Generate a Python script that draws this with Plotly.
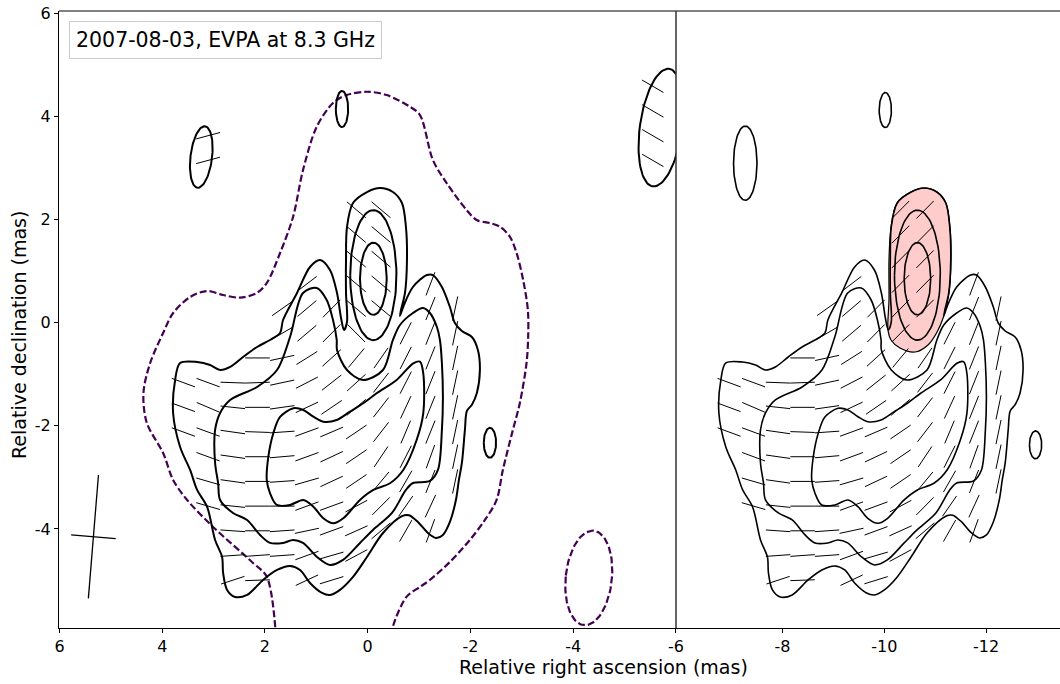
import numpy as np
import plotly.graph_objects as go

# ---------------- data (milliarcseconds) ----------------
# Stokes-I contours of the left map (RA offset, Dec offset)
L1_x = [0.928, 0.734, 0.597, 0.519, 0.461, 0.403, 0.422, 0.422, 0.403, 0.286, 0.014, -0.239, -0.492, -0.667,
        -0.745, -0.765, -0.726, -0.648, -0.628, -0.706, -0.881, -1.154, -1.270, -1.445, -1.601, -1.698, -1.834,
        -2.029, -2.146, -2.185, -2.126, -2.029, -1.932, -1.893, -1.834, -1.776, -1.718, -1.601, -1.465, -1.329,
        -1.173, -0.978, -0.803, -0.667,
        -0.298, 0.014, 0.286, 0.539, 0.734, 0.889, 1.123, 1.317, 1.512, 1.765, 2.037, 2.348, 2.582, 2.737, 2.815,
        2.835, 2.971, 3.126, 3.321, 3.457, 3.652, 3.788, 3.749, 3.652, 3.321, 3.068, 2.873, 2.679, 2.426, 2.154,
        1.901, 1.706, 1.648, 1.376, 1.123, 0.928]
L1_y = [1.213, 1.019, 0.574, 0.089, -0.143, 0.012, 0.574, 1.213, 1.853, 2.318, 2.531, 2.609, 2.531, 2.318,
        1.853, 1.213, 0.574, 0.244, 0.128, 0.341, 0.690, 0.922, 0.922, 0.690, 0.302, -0.008, -0.163,
        -0.279, -0.531, -0.919, -1.364, -1.591, -1.713, -2.081, -2.721, -3.050, -3.438, -3.864, -4.116, -4.174,
        -4.078, -3.864, -3.733, -3.752,
        -4.078, -4.543, -4.930, -5.182, -5.279, -5.240, -5.047, -4.795, -4.717, -4.795, -4.988, -5.279, -5.318,
        -5.182, -4.853, -4.543, -4.213, -3.574, -3.244, -2.857, -2.411, -1.752, -1.112, -0.783, -0.764, -0.822,
        -0.919, -0.860, -0.667, -0.473, -0.337, -0.202, 0.050, 0.574, 1.078, 1.213]

L2_x = [0.992, 0.798, 0.675, 0.603, 0.597, 0.403, 0.091, -0.298, -0.492, -0.628, -0.881, -1.076, -1.212, -1.348,
        -1.407, -1.445, -1.465, -1.445, -1.368, -1.212, -0.881, -0.745, -0.473, -0.103, 0.150, 0.481, 0.734,
        0.986, 1.259, 1.453, 1.648, 1.901, 2.096, 2.348, 2.621, 2.873, 2.912, 2.971, 2.971, 2.873, 2.679, 2.154,
        1.765, 1.512, 1.259, 0.992]
L2_y = [0.670, 0.438, 0.050, -0.337, -0.531, -0.919, -1.112, -0.919, -0.337, -0.047, 0.186, 0.283, 0.186, -0.085,
        -0.337, -0.783, -1.442, -2.081, -2.857, -3.070, -3.109, -3.244, -3.690, -4.019, -4.271, -4.601, -4.698,
        -4.543, -4.271, -4.213, -4.271, -4.271, -4.116, -3.826, -3.690, -3.438, -3.109, -2.721, -2.081, -1.752,
        -1.500, -1.248, -0.919, -0.279, 0.574, 0.670]

L3_x = [1.706, 1.447, 1.253, 1.058, 0.864, 0.603, 0.344, 0.086, -0.175, -0.564, -0.887, -1.018, -1.082, -1.082,
        -0.953, -0.693, -0.434, -0.109, 0.150, 0.475, 0.669, 0.864, 1.058, 1.253, 1.512, 1.770, 1.901, 1.965,
        1.934, 1.837, 1.706]
L3_y = [-1.829, -1.661, -1.694, -1.824, -1.921, -1.888, -1.727, -1.564, -1.370, -1.112, -0.789, -0.758, -0.983,
        -1.758, -2.275, -2.857, -3.114, -3.244, -3.438, -3.793, -3.890, -3.793, -3.568, -3.438, -3.535, -3.535,
        -3.308, -3.050, -2.599, -2.145, -1.829]

# core contours (centre RA, centre Dec, semi-major, semi-minor, tilt deg)
core_cx = [-0.11, -0.11]
core_cy = [0.92, 0.85]
core_a = [1.26, 0.70]
core_b = [0.45, 0.26]
core_tilt = [0.0, 0.0]

# lowest (dashed) contour of the left map
D_x = [1.784, 1.965, 2.232, 3.010, 3.516, 3.788, 3.983, 4.300, 4.366, 4.235, 3.983, 3.788, 3.457, 3.132, 2.815,
       2.484, 2.160, 1.965, 1.706, 1.453, 1.259, 0.992, 0.675, 0.409, 0.019, -0.370, -0.823, -1.018, -1.270,
       -1.537, -1.926, -2.121, -2.379, -2.574, -2.768, -2.899, -3.027, -3.119, -3.125, -3.093, -2.963, -2.827,
       -2.632, -2.510, -2.282, -1.990, -1.601, -1.212, -1.018, -0.759, -0.492, -0.470]
D_y = [-6.10, -4.924, -4.659, -3.961, -3.438, -3.050, -2.527, -1.946, -1.364, -0.783, -0.202, 0.186, 0.496, 0.612,
       0.535, 0.483, 0.574, 0.767, 1.349, 2.047, 2.957, 3.797, 4.256, 4.411, 4.475, 4.411, 4.184, 4.023, 3.151,
       2.705, 2.182, 1.988, 1.930, 1.859, 1.665, 1.349, 0.826, 0.244, -0.273, -0.783, -1.558, -2.081, -2.857,
       -3.438, -3.826, -4.213, -4.640, -4.988, -5.124, -5.312, -5.890, -6.10]
# dashed island: cx, cy, a, b, tilt
dash_isl = [-4.305, -4.95, 0.92, 0.45, -6.0]

# solid islands of the left map
isl_cx = [3.24, 0.50, -2.38, -5.71]
isl_cy = [3.21, 4.14, -2.33, 3.78]
isl_a = [0.60, 0.35, 0.29, 1.15]
isl_b = [0.21, 0.12, 0.12, 0.41]
isl_tilt = [-7.0, 0.0, 0.0, -8.0]

# solid islands of the right map
risl_cx = [-7.27, -10.02, -12.97]
risl_cy = [3.09, 4.12, -2.37]
risl_a = [0.72, 0.34, 0.27]
risl_b = [0.23, 0.12, 0.12]
risl_tilt = [0.0, 0.0, 0.0]

# highlighted core region of the right map
pink_x = [-10.073, -10.092, -10.092, -10.132, -10.249, -10.524, -10.779, -11.035, -11.211, -11.290, -11.310,
          -11.270, -11.192, -11.054, -10.858, -10.603, -10.308, -10.132, -10.073]
pink_y = [-0.147, 0.438, 1.213, 1.853, 2.318, 2.531, 2.609, 2.531, 2.318, 1.853, 1.213,
          0.574, 0.205, -0.147, -0.434, -0.570, -0.492, -0.337, -0.147]

# restoring beam (centre x, centre y, major, minor, PA)
beam = [5.34, -4.15, 2.40, 0.87, -4.7]

# EVPA grid (deg, None = no vector); rows top->bottom, cols left->right
GRID_X0, GRID_DX = 3.588, 0.481
GRID_Y0, GRID_DY = 2.187, 0.4787
N = None
evpa_left = [
    [N, N, N, N, N, N, N, 50, 50, N, N, N, N],
    [N, N, N, N, N, N, N, 50, 50, N, N, N, N],
    [N, N, N, N, N, N, N, 50, 50, N, N, N, N],
    [N, N, N, N, N, -53, N, 50, 50, N, -21, N, N],
    [N, N, N, N, -55, -50, -45, 50, 50, N, -22, -12, N],
    [N, N, N, N, -60, -50, -45, 45, N, -27, -22, -12, N],
    [N, N, N, 90, -78, -58, -48, -40, -35, -27, -22, -12, N],
    [70, 70, 88, -88, -78, -63, -52, -48, -38, -27, -22, -12, N],
    [70, 67, 84, 90, -82, -65, -56, -50, -38, -25, -22, -12, N],
    [70, 70, 82, 88, -86, -70, -67, -56, -38, -23, -22, -12, N],
    [N, 70, 82, 90, -85, -70, -65, -56, -34, -27, -20, -12, N],
    [N, 74, 82, 90, -86, -74, -65, -56, -40, -30, -22, -12, N],
    [N, 74, 84, 90, 90, -70, -70, -62, -45, -35, -25, N, N],
    [N, N, 86, 90, -86, -78, -70, -66, -50, -30, -20, N, N],
    [N, N, -86, -86, -86, -70, -74, -62, N, N, N, N, N],
    [N, N, -72, -88, N, -65, -73, N, N, N, N, N, N],
]
evpa_right = [
    [N, N, N, N, N, N, N, -45, -45, N, N, N, N],
    [N, N, N, N, N, N, N, -45, -45, N, N, N, N],
    [N, N, N, N, N, N, N, -45, -45, N, N, N, N],
    [N, N, N, N, N, -53, N, -45, -45, N, -21, N, N],
    [N, N, N, N, -55, -50, -45, -45, -45, N, -22, -12, N],
    [N, N, N, N, -60, -50, -45, -45, N, -27, -22, -12, N],
    [N, N, N, 90, -78, -58, -48, -40, -35, -27, -22, -12, N],
    [70, 70, 88, -88, -78, -63, -52, -48, -38, -27, -22, -12, N],
    [70, 67, 84, 90, -82, -65, -56, -50, -38, -25, -22, -12, N],
    [70, 70, 82, 88, -86, -70, -67, -56, -38, -23, -22, -12, N],
    [N, 70, 82, 90, -85, -70, -65, -56, -34, -27, -20, -12, N],
    [N, 74, 82, 90, -86, -74, -65, -56, -40, -30, -22, -12, N],
    [N, 74, 84, 90, 90, -70, -70, -62, -45, -35, -25, N, N],
    [N, N, 86, 90, -86, -78, -70, -66, -50, -30, -20, N, N],
    [N, N, -86, -86, -86, -70, -74, -62, N, N, N, N, N],
    [N, N, -72, -88, N, -65, -73, N, N, N, N, N, N],
]
# extra EVPA vectors on the islands (x, y, deg)
evpa_isl_x = [3.107, 3.107, -5.551, -5.551, -5.551, -5.551]
evpa_isl_y = [3.623, 3.144, 4.581, 4.102, 3.623, 3.144]
evpa_isl_a = [-75, -75, 60, 60, 60, 60]
TICK_LEN = 0.48

RIGHT_SHIFT = -10.54   # offset of the right-hand map copy

x_ticks_left = [6, 4, 2, 0, -2, -4, -6]
x_ticks_right = [-8, -10, -12]
y_ticks = [-4, -2, 0, 2, 4, 6]
title_text = "2007-08-03, EVPA at 8.3 GHz"

# ---------------- helpers ----------------
def ellipse(cx, cy, a, b, tilt, n=90):
    t = np.linspace(0, 2 * np.pi, n)
    th = np.radians(tilt)
    u = b * np.cos(t)
    v = a * np.sin(t)
    x = cx + u * np.cos(th) + v * np.sin(th)
    y = cy - u * np.sin(th) + v * np.cos(th)
    return x, y


def tick(xs, ys, cx, cy, ang):
    dx = np.sin(np.radians(ang)) * TICK_LEN / 2
    dy = np.cos(np.radians(ang)) * TICK_LEN / 2
    xs += [cx - dx, cx + dx, None]
    ys += [cy - dy, cy + dy, None]


def evpa_segments(table, shift=0.0):
    xs, ys = [], []
    for r, row in enumerate(table):
        for c, ang in enumerate(row):
            if ang is None:
                continue
            tick(xs, ys, GRID_X0 - GRID_DX * c + shift, GRID_Y0 - GRID_DY * r, ang)
    return xs, ys


fig = go.Figure()
LW_L, LW_R = 2.0, 1.6


def add_line(x, y, xa, line, spline=True, fill=None, fillcolor=None):
    ln = dict(line)
    if spline:
        ln.update(shape="spline", smoothing=0.9)
    fig.add_trace(go.Scatter(x=x, y=y, mode="lines", xaxis=xa, yaxis="y", line=ln,
                             fill=fill, fillcolor=fillcolor, hoverinfo="skip", showlegend=False))


# ---- right panel ----
add_line(pink_x, pink_y, "x2", dict(color="black", width=1.2), fill="toself",
         fillcolor="rgba(255,0,0,0.2)")
for X, Y in [(L1_x, L1_y), (L2_x, L2_y), (L3_x, L3_y)]:
    add_line([v + RIGHT_SHIFT for v in X], Y, "x2", dict(color="black", width=LW_R))
for i in range(2):
    ex, ey = ellipse(core_cx[i] + RIGHT_SHIFT, core_cy[i], core_a[i], core_b[i], core_tilt[i])
    add_line(ex, ey, "x2", dict(color="black", width=LW_R), spline=False)
for i in range(len(risl_cx)):
    ex, ey = ellipse(risl_cx[i], risl_cy[i], risl_a[i], risl_b[i], risl_tilt[i])
    add_line(ex, ey, "x2", dict(color="black", width=LW_R), spline=False)
sx, sy = evpa_segments(evpa_right, RIGHT_SHIFT)
fig.add_trace(go.Scatter(x=sx, y=sy, mode="lines", xaxis="x2", yaxis="y",
                         line=dict(color="black", width=1), hoverinfo="skip", showlegend=False))

# ---- left panel ----
add_line(D_x, D_y, "x", dict(color="#440154", width=2.2, dash="7px,3px"))
ex, ey = ellipse(*dash_isl)
add_line(ex, ey, "x", dict(color="#440154", width=2.2, dash="7px,3px"), spline=False)
for X, Y in [(L1_x, L1_y), (L2_x, L2_y), (L3_x, L3_y)]:
    add_line(X, Y, "x", dict(color="black", width=LW_L))
for i in range(2):
    ex, ey = ellipse(core_cx[i], core_cy[i], core_a[i], core_b[i], core_tilt[i])
    add_line(ex, ey, "x", dict(color="black", width=LW_L), spline=False)
for i in range(len(isl_cx)):
    ex, ey = ellipse(isl_cx[i], isl_cy[i], isl_a[i], isl_b[i], isl_tilt[i])
    add_line(ex, ey, "x", dict(color="black", width=LW_L), spline=False)
sx, sy = evpa_segments(evpa_left)
for xx, yy, aa in zip(evpa_isl_x, evpa_isl_y, evpa_isl_a):
    tick(sx, sy, xx, yy, aa)
fig.add_trace(go.Scatter(x=sx, y=sy, mode="lines", xaxis="x", yaxis="y",
                         line=dict(color="black", width=1), hoverinfo="skip", showlegend=False))

# beam cross
bx, by, bmaj, bmin, bpa = beam
t = np.radians(bpa)
mx, my = np.sin(t) * bmaj / 2, np.cos(t) * bmaj / 2
nx, ny = np.cos(t) * bmin / 2, -np.sin(t) * bmin / 2
fig.add_trace(go.Scatter(x=[bx - mx, bx + mx, None, bx - nx, bx + nx],
                         y=[by - my, by + my, None, by - ny, by + ny],
                         mode="lines", xaxis="x", yaxis="y", line=dict(color="black", width=1.3),
                         hoverinfo="skip", showlegend=False))

# ---------------- layout ----------------
W, H = 1060, 684
ML, MR, MT, MB = 59, 0, 11, 56
split = (676 - ML) / (W - ML - MR)
FONT = "DejaVu Sans"
tickfont = dict(family=FONT, size=16, color="black")
common_x = dict(showgrid=False, zeroline=False, showline=True, linecolor="black", linewidth=1,
                ticks="outside", ticklen=4, tickwidth=1, tickcolor="black", tickfont=tickfont,
                automargin=False)
fig.update_layout(
    template="none",
    width=W, height=H, autosize=False, margin=dict(l=ML, r=MR, t=MT, b=MB, pad=0),
    paper_bgcolor="white", plot_bgcolor="white",
    xaxis=dict(domain=[0, split], range=[6.01, -6.003], anchor="y",
               tickvals=x_ticks_left, ticktext=[str(v) for v in x_ticks_left], **common_x),
    xaxis2=dict(domain=[split, 1], range=[-5.91, -13.45], anchor="y",
                tickvals=x_ticks_right, ticktext=[str(v) for v in x_ticks_right], **common_x),
    yaxis=dict(domain=[0, 1], range=[-5.92, 6.04], anchor="x", showgrid=False, zeroline=False,
               showline=True, linecolor="black", linewidth=1, ticks="outside", ticklen=4,
               tickwidth=1, tickcolor="black", tickfont=tickfont, automargin=False,
               tickvals=y_ticks, ticktext=[str(v) for v in y_ticks]),
    shapes=[
        dict(type="line", xref="paper", yref="paper", x0=0, x1=1, y0=1, y1=1,
             line=dict(color="black", width=1)),
        dict(type="line", xref="paper", yref="paper", x0=split, x1=split, y0=0, y1=1,
             line=dict(color="#333333", width=1.5)),
    ],
    annotations=[
        dict(text=title_text, xref="paper", yref="paper", x=(69 - ML) / (W - ML), y=1 - (21 - MT) / (H - MT - MB),
             xanchor="left", yanchor="top", showarrow=False, font=dict(family=FONT, size=20.5, color="black"),
             bgcolor="white", bordercolor="#cccccc", borderwidth=1, borderpad=6),
        dict(text="Relative right ascension (mas)", xref="paper", yref="paper",
             x=(603 - ML) / (W - ML), y=-(667 - 628) / (H - MT - MB), xanchor="center", yanchor="middle",
             showarrow=False, font=dict(family=FONT, size=19, color="black")),
        dict(text="Relative declination (mas)", xref="paper", yref="paper",
             x=(19 - ML) / (W - ML), y=1 - (335 - MT) / (H - MT - MB), xanchor="center", yanchor="middle",
             textangle=-90, showarrow=False, font=dict(family=FONT, size=19, color="black")),
    ],
)
fig.write_html("out.html", config={"displayModeBar": False, "responsive": False},
               post_script="document.body.style.margin='0px';")
